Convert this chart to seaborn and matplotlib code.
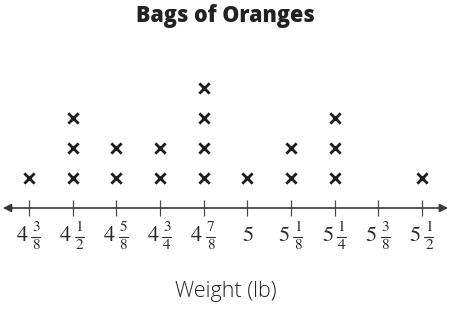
import matplotlib
matplotlib.use("Agg")
import matplotlib.pyplot as plt
import seaborn as sns
import pandas as pd

# Data
weights = [4.375, 4.5, 4.625, 4.75, 4.875, 5.0, 5.125, 5.25, 5.375, 5.5]
counts = [1, 3, 2, 2, 4, 1, 2, 3, 0, 1]
tick_labels = ["4 3/8", "4 1/2", "4 5/8", "4 3/4", "4 7/8", "5",
               "5 1/8", "5 1/4", "5 3/8", "5 1/2"]
title = "Bags of Oranges"
xlabel = "Weight (lb)"

rows = []
for w, c in zip(weights, counts):
    for k in range(1, c + 1):
        rows.append({"weight": w, "level": k})
df = pd.DataFrame(rows)

sns.set_theme(style="white")
plt.rcParams["font.family"] = ["Open Sans", "DejaVu Sans"]

W, H = 451, 314
fig = plt.figure(figsize=(W / 100, H / 100), dpi=100)
ax = fig.add_axes([0, 0, 1, 1])

px_per_unit = 349.3
x0 = 4.375 - 29 / px_per_unit
x1 = x0 + W / px_per_unit
y_unit = 30.0
line_y = 208
ax.set_xlim(x0, x1)
ax.set_ylim(-(H - line_y) / y_unit, line_y / y_unit)

sns.scatterplot(data=df, x="weight", y="level", marker="x", s=55,
                linewidth=2.0, color="#1c1c1c", ax=ax, legend=False, zorder=3)

for s in ["top", "left", "right", "bottom"]:
    ax.spines[s].set_visible(False)

# axis line with arrows
ax.annotate("", xy=(x0 + 3 / px_per_unit, 0), xytext=(x1 - 3 / px_per_unit, 0),
            arrowprops=dict(arrowstyle="<|-|>", color="#3a3a3a", lw=1.2,
                            mutation_scale=12, shrinkA=0, shrinkB=0))
ax.set_yticks([])
ax.set_xticks(weights)
ax.set_xticklabels([])
ax.spines["bottom"].set_position(("data", 0))
ax.tick_params(axis="x", direction="inout", length=12, width=0.9,
               color="#4a4a4a", bottom=True)
ax.set_xlabel("")
ax.set_ylabel("")

# mixed-number tick labels
serif = "STIXGeneral"
lab_col = "#2a2a2a"
pt = 72 / 100  # points per pixel
for w, lab in zip(weights, tick_labels):
    parts = lab.split()
    if len(parts) == 1:
        ax.annotate(parts[0], xy=(w, 0), xytext=(1 * pt, -28 * pt),
                    textcoords="offset points", ha="center", va="center",
                    fontsize=16, family=serif, color=lab_col)
    else:
        whole = parts[0]
        num, den = parts[1].split("/")
        ax.annotate(whole, xy=(w, 0), xytext=(-7 * pt, -28 * pt),
                    textcoords="offset points", ha="center", va="center",
                    fontsize=16, family=serif, color=lab_col)
        ax.annotate(num, xy=(w, 0), xytext=(7 * pt, -19 * pt),
                    textcoords="offset points", ha="center", va="center",
                    fontsize=11, family=serif, color=lab_col)
        ax.annotate(den, xy=(w, 0), xytext=(7 * pt, -37.5 * pt),
                    textcoords="offset points", ha="center", va="center",
                    fontsize=11, family=serif, color=lab_col)
        ax.annotate("", xy=(w, 0), xytext=(2.5 * pt, -28.5 * pt),
                    textcoords="offset points")
        ax.plot([w + 2.5 / px_per_unit, w + 11.5 / px_per_unit],
                [-28.5 / y_unit, -28.5 / y_unit], color=lab_col, lw=0.8)

fig.text(0.5, 1 - 16 / H, title, ha="center", va="center", fontsize=15.5,
         fontweight="heavy", color="#222222")
fig.text(0.5, 1 - 291 / H, xlabel, ha="center", va="center", fontsize=15.5,
         color="#222222", fontweight="light")

fig.savefig("out.png", dpi=100, facecolor="white")
